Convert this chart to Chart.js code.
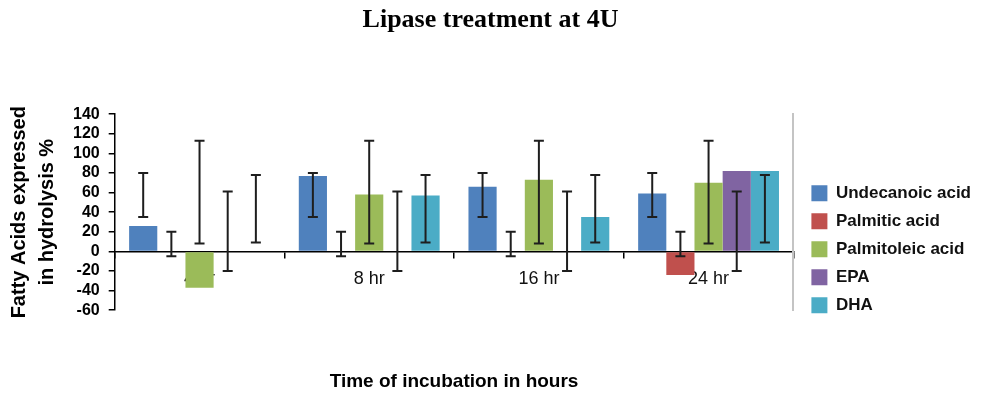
<!DOCTYPE html>
<html>
<head>
<meta charset="utf-8">
<script src="https://cdn.jsdelivr.net/npm/chart.js@4/dist/chart.umd.min.js"></script>
<style>
  html, body { margin: 0; padding: 0; background: #fff; }
  #wrap { width: 981px; height: 396px; }
</style>
</head>
<body>
<div id="wrap"><canvas id="c" width="981" height="396"></canvas></div>
<script>
// ---- data ----
const categories = ['4 hr', '8 hr', '16 hr', '24 hr'];
const seriesNames = ['Undecanoic acid', 'Palmitic acid', 'Palmitoleic acid', 'EPA', 'DHA'];

const undecanoic  = [26, 77, 66, 59];
const palmitic    = [0, 0, 0, -24];
const palmitoleic = [-37, 58, 73, 70];
const epa         = [0, 0, 0, 82];
const dha         = [0, 57, 35, 82];

// error bar ranges (low / high) per series
const undecanoicLow  = [35, 35, 35, 35];
const undecanoicHigh = [80, 80, 80, 80];
const palmiticLow    = [-5, -5, -5, -5];
const palmiticHigh   = [20, 20, 20, 20];
const palmitoleicLow = [8, 8, 8, 8];
const palmitoleicHigh= [113, 113, 113, 113];
const epaLow         = [-20, -20, -20, -20];
const epaHigh        = [61, 61, 61, 61];
const dhaLow         = [9, 9, 9, 9];
const dhaHigh        = [78, 78, 78, 78];

const yMin = -60, yMax = 140, yStep = 20;

const chartTitle = 'Lipase treatment at 4U';
const xTitle = 'Time of incubation in hours';
const yTitle = ['Fatty Acids expressed', 'in hydrolysis %'];

// ---- styles ----
const colors = ['#4F81BD', '#C0504D', '#9BBB59', '#8064A2', '#4BACC6'];
const seriesValues = [undecanoic, palmitic, palmitoleic, epa, dha];
const seriesLow = [undecanoicLow, palmiticLow, palmitoleicLow, epaLow, dhaLow];
const seriesHigh = [undecanoicHigh, palmiticHigh, palmitoleicHigh, epaHigh, dhaHigh];

const errorBarPlugin = {
  id: 'errorBars',
  afterDatasetsDraw(chart) {
    const ctx = chart.ctx;
    const ys = chart.scales.y;
    ctx.save();
    ctx.strokeStyle = '#1e1e1e';
    ctx.lineWidth = 2;
    chart.data.datasets.forEach((ds, i) => {
      const meta = chart.getDatasetMeta(i);
      meta.data.forEach((el, j) => {
        const x = el.x;
        const y1 = ys.getPixelForValue(ds.errLow[j]);
        const y2 = ys.getPixelForValue(ds.errHigh[j]);
        ctx.beginPath();
        ctx.moveTo(x, y1); ctx.lineTo(x, y2);
        ctx.moveTo(x - 5, y1); ctx.lineTo(x + 5, y1);
        ctx.moveTo(x - 5, y2); ctx.lineTo(x + 5, y2);
        ctx.stroke();
      });
    });
    ctx.restore();
  }
};

Chart.defaults.font.family = "'Liberation Sans', Arial, sans-serif";
Chart.defaults.color = '#000';

new Chart(document.getElementById('c'), {
  type: 'bar',
  data: {
    labels: categories,
    datasets: seriesNames.map((name, i) => ({
      label: name,
      data: seriesValues[i],
      errLow: seriesLow[i],
      errHigh: seriesHigh[i],
      backgroundColor: colors[i],
      borderColor: colors[i],
      borderWidth: 0,
      categoryPercentage: 0.83,
      barPercentage: 1.0
    }))
  },
  options: {
    responsive: false,
    animation: false,
    devicePixelRatio: 1,
    layout: { padding: 0 },
    plugins: {
      tooltip: { enabled: false },
      title: {
        display: true,
        text: chartTitle,
        color: '#000',
        font: { family: "'Liberation Serif', 'Times New Roman', serif", size: 26, weight: 'bold' },
        padding: { top: 5, bottom: 78 }
      },
      legend: {
        display: true,
        position: 'right',
        fullSize: true,
        align: 'center',
        maxWidth: 220,
        title: { display: true, text: '', font: { size: 12 }, padding: { top: 0, bottom: 88 } },
        labels: {
          boxWidth: 16,
          boxHeight: 16,
          padding: 11,
          color: '#111',
          font: { size: 17, weight: 'bold' }
        }
      }
    },
    scales: {
      x: {
        type: 'category',
        position: { y: 0 },
        offset: true,
        grid: { display: true, drawOnChartArea: false, drawTicks: true, tickLength: 6, offset: true, color: '#000', lineWidth: 1.5 },
        border: { display: true, color: '#000', width: 1.5 },
        ticks: { font: { size: 18 }, color: '#111', padding: 11, maxRotation: 0, autoSkip: false }
      },
      xTitleAxis: {
        type: 'category',
        axis: 'x',
        position: 'bottom',
        grid: { display: false, drawTicks: false },
        border: { display: false },
        ticks: { display: false },
        title: {
          display: true,
          text: xTitle,
          color: '#000',
          font: { size: 19, weight: 'bold' },
          padding: { top: 60, bottom: 3 }
        }
      },
      y: {
        type: 'linear',
        position: 'left',
        min: yMin,
        max: yMax,
        grid: { display: true, drawOnChartArea: false, drawTicks: true, tickLength: 6, color: '#000', lineWidth: 1.5 },
        border: { display: true, color: '#000', width: 1.5 },
        ticks: { stepSize: yStep, autoSkip: false, font: { size: 16, weight: 'bold' }, color: '#000', padding: 9 },
        title: {
          display: true,
          text: yTitle,
          color: '#000',
          font: { size: 20, weight: 'bold', lineHeight: 1.4 },
          padding: { top: 5, bottom: 3 }
        }
      },
      yRight: {
        type: 'linear',
        position: 'right',
        grid: { display: false, drawTicks: false },
        ticks: { display: false },
        border: { display: true, color: '#c4c4c4', width: 2 },
        afterFit(scale) { scale.width = 7; }
      }
    }
  },
  plugins: [errorBarPlugin]
});
</script>
</body>
</html>
